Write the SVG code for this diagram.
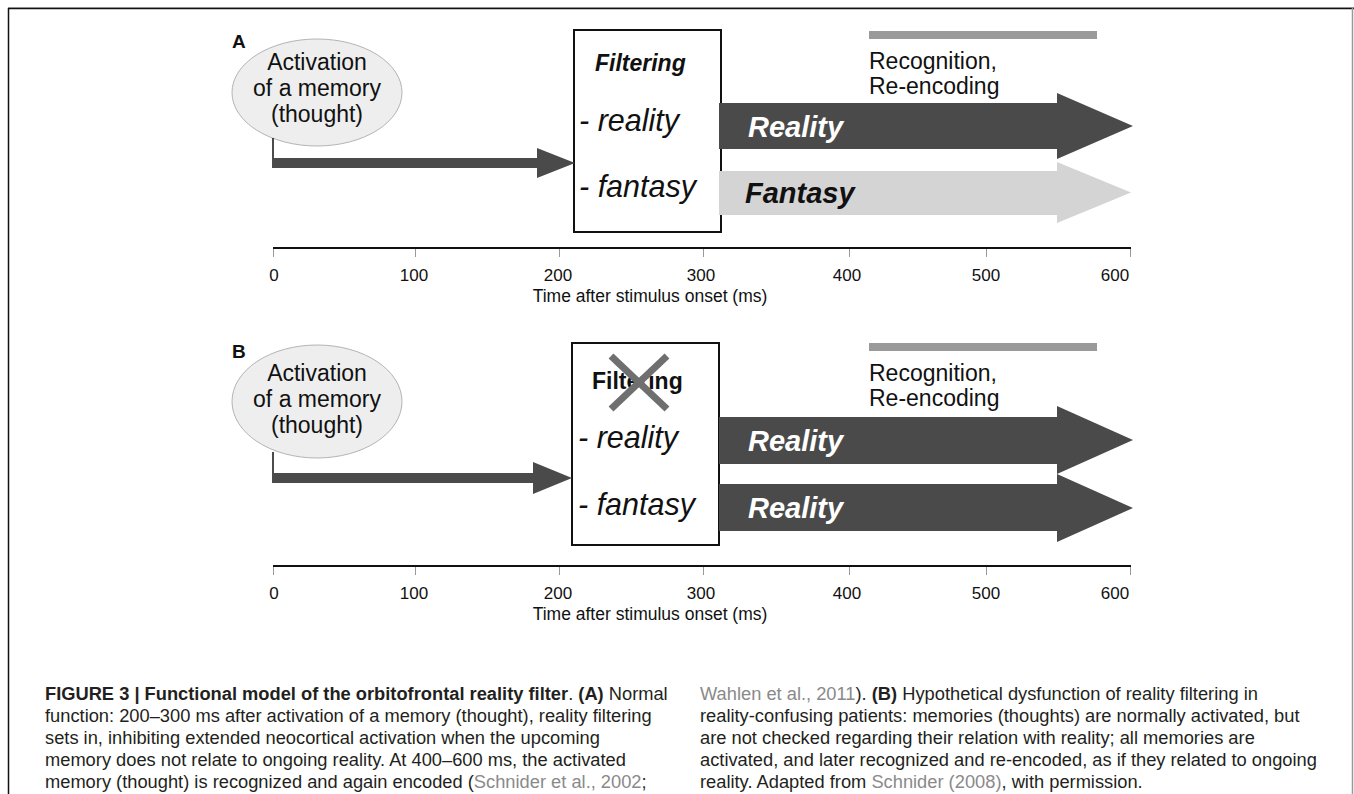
<svg xmlns="http://www.w3.org/2000/svg" width="1354" height="794" viewBox="0 0 1354 794">
<style>
text{font-family:"Liberation Sans",Arial,sans-serif;fill:#111}
.lbl{font-size:19px;font-weight:bold}
.ell{fill:#eeeeee;stroke:#b4b4b4;stroke-width:1}
.et{font-size:23px;text-anchor:middle}
.box{fill:#fff;stroke:#111;stroke-width:2}
.filt{font-size:23px;font-weight:bold}
.opt{font-size:30.5px;font-style:italic}
.big{font-size:29px;font-weight:bold;font-style:italic}
.dark{fill:#4a4a4a}
.light{fill:#d4d4d4}
.bar{fill:#9a9a9a}
.rec{font-size:23px}
.axis{stroke:#111;stroke-width:2}
.tick{stroke:#999;stroke-width:1}
.ax{font-size:17px;text-anchor:middle}
.tt{font-size:17.5px;text-anchor:middle}
.cap{font-size:18.3px;fill:#231f20}
.b{font-weight:bold}
.ref{fill:#8a8a8a}
</style>
<g id="frame">
<line x1="8" y1="7.5" x2="1354" y2="7.5" stroke="#bbb" stroke-width="1"/>
<line x1="8" y1="8.5" x2="1354" y2="8.5" stroke="#111" stroke-width="1.5"/>
<line x1="8.5" y1="8" x2="8.5" y2="794" stroke="#111" stroke-width="1.5"/>
<line x1="1352.5" y1="8" x2="1352.5" y2="794" stroke="#999" stroke-width="1.5"/>
</g>
<g id="panelA">
<text class="lbl" x="232" y="48">A</text>
<g id="A-memory">
<ellipse class="ell" cx="317" cy="92.5" rx="85" ry="53.5"/>
<text class="et" x="317" y="70">Activation</text>
<text class="et" x="317" y="96">of a memory</text>
<text class="et" x="317" y="122">(thought)</text>
</g>
<g id="A-filter">
<rect class="box" x="574" y="30" width="147" height="202"/>
<text class="filt" x="595" y="71" font-style="italic">Filtering</text>
<text class="opt" x="579" y="131">- reality</text>
<text class="opt" x="579" y="197">- fantasy</text>
</g>
<g id="A-recognition">
<rect class="bar" x="869" y="31" width="228" height="8"/>
<text class="rec" x="869" y="69">Recognition,</text>
<text class="rec" x="869" y="94">Re-encoding</text>
</g>
<g id="A-connectors">
<line x1="273" y1="138" x2="273" y2="168" stroke="#111" stroke-width="1.5"/>
<path class="dark" d="M273,158 H537 V148 L575,163 L537,178 V168 H273 Z"/>
<path class="dark" d="M719,103 H1057 V93 L1133,126 L1057,159 V149 H719 Z"/>
<path class="light" d="M719,171 H1057 V162 L1131,192.5 L1057,223 V215 H719 Z"/>
</g>
<g id="A-labels">
<text class="big" x="748" y="137" style="fill:#fff">Reality</text>
<text class="big" x="745" y="203">Fantasy</text>
</g>
<g id="A-axis">
<line class="axis" x1="273" y1="248" x2="1131" y2="248"/>
<line class="tick" x1="273.5" y1="249" x2="273.5" y2="257"/>
<line class="tick" x1="415.5" y1="249" x2="415.5" y2="257"/>
<line class="tick" x1="559.5" y1="249" x2="559.5" y2="257"/>
<line class="tick" x1="703.5" y1="249" x2="703.5" y2="257"/>
<line class="tick" x1="849.5" y1="249" x2="849.5" y2="257"/>
<line class="tick" x1="986.5" y1="249" x2="986.5" y2="257"/>
<line class="tick" x1="1130.5" y1="249" x2="1130.5" y2="257"/>
<text class="ax" x="274" y="281">0</text>
<text class="ax" x="414" y="281">100</text>
<text class="ax" x="558" y="281">200</text>
<text class="ax" x="701" y="281">300</text>
<text class="ax" x="847" y="281">400</text>
<text class="ax" x="986" y="281">500</text>
<text class="ax" x="1115" y="281">600</text>
<text class="tt" x="650" y="302">Time after stimulus onset (ms)</text>
</g>
</g>
<g id="panelB">
<text class="lbl" x="232" y="358">B</text>
<g id="B-memory">
<ellipse class="ell" cx="317" cy="401.5" rx="85" ry="56.5"/>
<text class="et" x="317" y="381">Activation</text>
<text class="et" x="317" y="407">of a memory</text>
<text class="et" x="317" y="433">(thought)</text>
</g>
<g id="B-filter">
<rect class="box" x="572" y="343" width="147" height="202"/>
<text class="filt" x="592" y="389">Filtering</text>
<line x1="611" y1="356" x2="667" y2="409" stroke="#6f6f6f" stroke-width="7"/>
<line x1="667" y1="356" x2="611" y2="409" stroke="#6f6f6f" stroke-width="7"/>
<text class="opt" x="578" y="448">- reality</text>
<text class="opt" x="578" y="515">- fantasy</text>
</g>
<g id="B-recognition">
<rect class="bar" x="869" y="343" width="228" height="8"/>
<text class="rec" x="869" y="381">Recognition,</text>
<text class="rec" x="869" y="406">Re-encoding</text>
</g>
<g id="B-connectors">
<line x1="273" y1="452" x2="273" y2="483" stroke="#111" stroke-width="1.5"/>
<path class="dark" d="M273,473 H533 V462 L572,478 L533,494 V483 H273 Z"/>
<path class="dark" d="M719,417 H1057 V406 L1133,440 L1057,474 V464 H719 Z"/>
<path class="dark" d="M719,484 H1057 V474 L1133,508 L1057,542 V531 H719 Z"/>
</g>
<g id="B-labels">
<text class="big" x="748" y="451" style="fill:#fff">Reality</text>
<text class="big" x="748" y="518" style="fill:#fff">Reality</text>
</g>
<g id="B-axis">
<line class="axis" x1="273" y1="566" x2="1131" y2="566"/>
<line class="tick" x1="273.5" y1="567" x2="273.5" y2="575"/>
<line class="tick" x1="415.5" y1="567" x2="415.5" y2="575"/>
<line class="tick" x1="559.5" y1="567" x2="559.5" y2="575"/>
<line class="tick" x1="703.5" y1="567" x2="703.5" y2="575"/>
<line class="tick" x1="849.5" y1="567" x2="849.5" y2="575"/>
<line class="tick" x1="986.5" y1="567" x2="986.5" y2="575"/>
<line class="tick" x1="1130.5" y1="567" x2="1130.5" y2="575"/>
<text class="ax" x="274" y="599">0</text>
<text class="ax" x="414" y="599">100</text>
<text class="ax" x="558" y="599">200</text>
<text class="ax" x="701" y="599">300</text>
<text class="ax" x="847" y="599">400</text>
<text class="ax" x="986" y="599">500</text>
<text class="ax" x="1115" y="599">600</text>
<text class="tt" x="650" y="620">Time after stimulus onset (ms)</text>
</g>
</g>
<g id="caption">
<text class="cap" x="45" y="700"><tspan class="b">FIGURE 3 | Functional model of the orbitofrontal reality filter</tspan>. <tspan class="b">(A)</tspan> Normal</text>
<text class="cap" x="45" y="722">function: 200–300 ms after activation of a memory (thought), reality filtering</text>
<text class="cap" x="45" y="744">sets in, inhibiting extended neocortical activation when the upcoming</text>
<text class="cap" x="45" y="766">memory does not relate to ongoing reality. At 400–600 ms, the activated</text>
<text class="cap" x="45" y="788">memory (thought) is recognized and again encoded (<tspan class="ref">Schnider et al., 2002</tspan>;</text>
<text class="cap" x="700" y="700"><tspan class="ref">Wahlen et al., 2011</tspan>). <tspan class="b">(B)</tspan> Hypothetical dysfunction of reality filtering in</text>
<text class="cap" x="700" y="722">reality-confusing patients: memories (thoughts) are normally activated, but</text>
<text class="cap" x="700" y="744">are not checked regarding their relation with reality; all memories are</text>
<text class="cap" x="700" y="766">activated, and later recognized and re-encoded, as if they related to ongoing</text>
<text class="cap" x="700" y="788">reality. Adapted from <tspan class="ref">Schnider (2008)</tspan>, with permission.</text>
</g>
</svg>
